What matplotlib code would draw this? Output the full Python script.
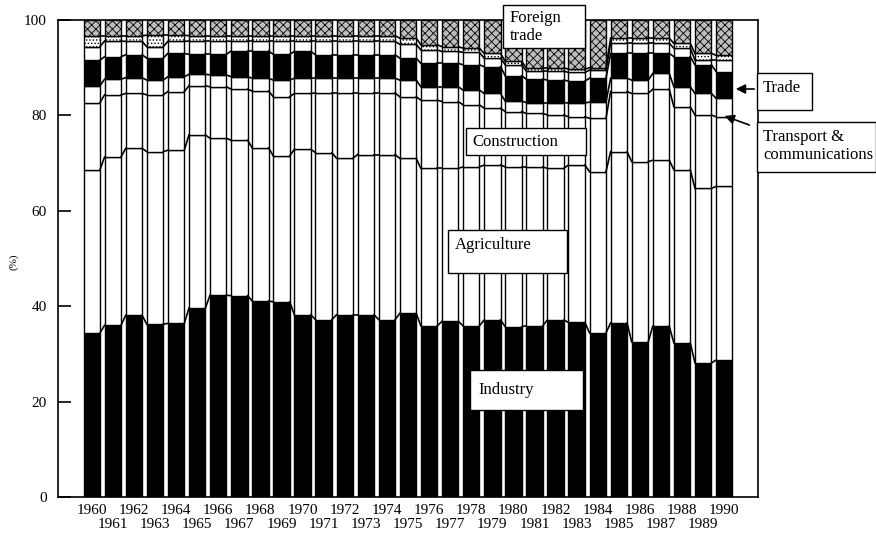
import numpy as np
import matplotlib
matplotlib.use('Agg')
import matplotlib.pyplot as plt
from matplotlib.patches import Rectangle, FancyArrowPatch
from matplotlib.transforms import blended_transform_factory

# Share of national income by sector, 1960-1990 (%)
years = list(range(1960, 1991))

industry = [34.4, 36.0, 38.1, 36.2, 36.4, 39.6, 42.3, 42.2, 41.1, 40.9,
            38.2, 37.2, 38.2, 38.2, 37.2, 38.5, 35.9, 36.8, 35.9, 37.1,
            35.7, 35.9, 37.1, 36.6, 34.4, 36.5, 32.5, 35.8, 32.3, 28.1, 28.7]
agriculture = [34.2, 35.3, 35.0, 36.2, 36.3, 36.3, 32.9, 32.6, 32.1, 30.6,
               34.7, 35.0, 32.8, 33.6, 34.6, 32.5, 33.0, 32.1, 33.3, 32.5,
               33.5, 33.3, 31.8, 33.0, 33.8, 35.9, 37.8, 34.8, 36.3, 36.6, 36.4]
construction = [14.1, 13.0, 11.5, 11.9, 12.3, 10.3, 10.8, 10.7, 11.9, 12.4,
                11.7, 12.5, 13.7, 12.9, 12.9, 12.9, 14.3, 14.0, 13.0, 11.9,
                11.6, 11.2, 11.2, 10.1, 11.2, 12.6, 14.3, 14.9, 13.2, 15.4, 14.6]
transport = [3.5, 3.3, 3.3, 3.1, 3.1, 2.4, 2.5, 2.6, 2.7, 3.5,
             3.2, 3.1, 3.1, 3.1, 3.1, 3.5, 2.8, 3.1, 3.1, 3.1,
             2.2, 2.3, 2.6, 2.9, 3.4, 2.8, 2.8, 3.3, 4.2, 4.5, 3.9]
trade = [5.4, 4.7, 4.8, 4.6, 4.9, 4.2, 4.3, 5.4, 5.7, 5.4,
         5.6, 4.9, 4.9, 4.9, 4.9, 4.6, 4.9, 4.9, 5.3, 5.6,
         5.3, 4.9, 4.7, 4.6, 5.0, 5.2, 5.6, 4.2, 6.3, 6.0, 5.6]
other = [2.8, 3.3, 2.8, 2.4, 2.5, 2.8, 2.8, 2.0, 2.0, 2.7,
         2.1, 2.8, 2.8, 2.8, 2.8, 2.9, 2.8, 2.5, 2.6, 1.8,
         2.3, 1.7, 1.9, 1.8, 1.7, 2.1, 2.1, 2.1, 1.8, 1.0, 2.4]
misc = [2.3, 1.1, 1.2, 2.4, 1.3, 1.1, 1.1, 1.2, 1.2, 1.2,
        1.2, 1.2, 1.2, 1.2, 1.2, 1.3, 1.1, 1.0, 0.9, 1.0,
        0.7, 0.7, 0.7, 0.7, 0.5, 1.1, 1.1, 1.1, 1.0, 1.4, 1.0]
foreign_trade = [3.3, 3.3, 3.3, 3.2, 3.2, 3.3, 3.3, 3.3, 3.3, 3.3,
                 3.3, 3.3, 3.3, 3.3, 3.3, 3.8, 5.2, 5.6, 5.9, 7.0,
                 8.7, 10.0, 10.0, 10.3, 10.0, 3.8, 3.8, 3.8, 4.9, 7.0, 7.4]

W, H = 876, 537
SERIF = 'Liberation Serif'


def fx(px):
    return px / W


def fy(py):
    return 1 - py / H


def label_box(ax, x0, y0, x1, y1, text, tx, ty):
    """White boxed label placed in pixel coords"""
    ax.add_patch(Rectangle((fx(x0), fy(y1)), fx(x1) - fx(x0), fy(y0) - fy(y1),
                           transform=ax.figure.transFigure, facecolor='white',
                           edgecolor='black', lw=1.0, clip_on=False, zorder=10))
    ax.text(fx(tx), fy(ty), text, transform=ax.figure.transFigure,
            fontsize=12, family=SERIF, va='center', ha='left',
            linespacing=1.2, zorder=11)


def main():
    plt.rcParams['hatch.linewidth'] = 0.6
    fig = plt.figure(figsize=(8.76, 5.37), dpi=100)
    ax = fig.add_axes([fx(58), fy(497), fx(758) - fx(58), fy(20) - fy(497)])

    x = np.arange(len(years))
    width = 0.78

    # Layers bottom to top: (values, face, hatch)
    layers = [
        (industry, 'black', None),
        (agriculture, 'white', None),
        (construction, 'white', None),
        (transport, 'white', None),
        (trade, 'black', None),
        (other, 'white', None),
        (misc, 'white', '.....'),
        (foreign_trade, '#bdbdbd', 'xxxx'),
    ]

    bottom = np.zeros(len(years))
    tops = []
    for vals, face, hatch in layers:
        vals = np.array(vals)
        ax.bar(x, vals, width, bottom=bottom, color=face, edgecolor='black',
               linewidth=1.0, hatch=hatch, zorder=2)
        bottom = bottom + vals
        tops.append(bottom.copy())

    # Connect the layer boundaries between neighbouring bars
    for cum in tops[:-1]:
        for i in range(len(years) - 1):
            ax.plot([i + width / 2, i + 1 - width / 2], [cum[i], cum[i + 1]],
                    color='black', lw=1.2, zorder=3)

    ax.set_xlim(-1.6, 31.6)
    ax.set_ylim(0, 100)
    ax.set_xticks([])
    ax.set_yticks([0, 20, 40, 60, 80, 100])
    ax.tick_params(axis='y', direction='in', length=9, width=1.2, pad=8,
                   labelsize=11)
    for lab in ax.get_yticklabels():
        lab.set_family(SERIF)
    for sp in ax.spines.values():
        sp.set_linewidth(1.2)

    # Two-row year labels
    trans = blended_transform_factory(ax.transData, fig.transFigure)
    for i, yr in enumerate(years):
        ypix = 510 if yr % 2 == 0 else 525
        ax.text(i, fy(ypix), str(yr), transform=trans, ha='center',
                va='center', fontsize=11, family=SERIF)

    fig.text(fx(14), fy(262), '(%)', rotation=90, fontsize=8,
             family=SERIF, va='center', ha='center')

    # Series labels
    label_box(ax, 503, 5, 585, 48, 'Foreign\ntrade', 510, 27)
    label_box(ax, 466, 128, 586, 155, 'Construction', 472, 142)
    label_box(ax, 448, 230, 567, 273, 'Agriculture', 455, 245)
    label_box(ax, 470, 370, 583, 410, 'Industry', 478, 390)
    label_box(ax, 757, 73, 812, 110, 'Trade', 763, 88)
    label_box(ax, 757, 122, 876, 172, 'Transport &\ncommunications', 763, 146)

    # Arrows from the side labels
    for start, end in [((757, 89), (733, 89)), ((752, 126), (722, 115))]:
        ax.add_patch(FancyArrowPatch((fx(start[0]), fy(start[1])),
                                     (fx(end[0]), fy(end[1])),
                                     transform=fig.transFigure,
                                     arrowstyle='-|>', mutation_scale=14,
                                     color='black', lw=1.2, clip_on=False,
                                     zorder=12))

    plt.savefig('out.png', dpi=100)


if __name__ == "__main__":
    main()
